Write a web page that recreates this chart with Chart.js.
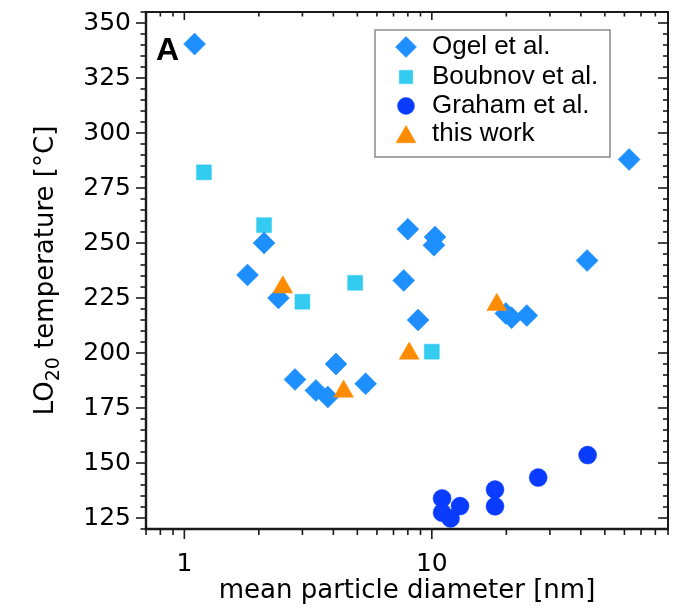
<!DOCTYPE html>
<html><head><meta charset="utf-8">
<script src="https://cdn.jsdelivr.net/npm/chart.js@4.4.1/dist/chart.umd.min.js"></script>
<style>html,body{margin:0;padding:0;background:#fff;}#wrap{width:684px;height:610px;}</style>
</head><body><div id="wrap"><canvas id="c" width="684" height="610"></canvas></div>
<script>
// ---- data ----
const ogelX = [1.1, 1.8, 2.1, 2.4, 2.8, 3.4, 3.8, 4.1, 5.4, 7.7, 8.0, 8.8, 10.3, 10.2, 19.9, 21.0, 24.2, 42.4, 62.7];
const ogelY = [340.4, 235.5, 250, 225, 188, 183, 180, 195, 186, 233, 256.3, 215, 252.7, 249, 218, 216, 217, 242, 288];
const boubnovX = [1.2, 2.1, 3.0, 4.9, 10.0];
const boubnovY = [282.1, 258.1, 223.3, 231.9, 200.6];
const grahamX = [11.0, 11.0, 11.9, 13.0, 18.0, 18.0, 26.9, 42.6];
const grahamY = [133.9, 127.4, 124.8, 130.4, 137.9, 130.3, 143.4, 153.6];
const thisX = [2.5, 4.4, 8.1, 18.3];
const thisY = [229.9, 182.5, 199.8, 221.9];
const seriesNames = ['Ogel et al.', 'Boubnov et al.', 'Graham et al.', 'this work'];
const xMajorTicks = [1, 10];
const xMinorTicks = [0.7, 0.8, 0.9, 2, 3, 4, 5, 6, 7, 8, 9, 20, 30, 40, 50, 60, 70, 80, 90];
const yMajorTicks = [125, 150, 175, 200, 225, 250, 275, 300, 325, 350];
const yMinorStep = 5;
const xRange = [0.7, 90];
const yRange = [120, 355];
const yTitleParts = ['LO', '20', ' temperature [°C]'];

const pts = (xs, ys) => xs.map((v, i) => ({x: v, y: ys[i]}));

const styles = [
  {pointStyle: 'rectRot', color: '#1E8FFF', radius: 11},
  {pointStyle: 'rect', color: '#33CCF0', radius: 10.6},
  {pointStyle: 'circle', color: '#0A3CFF', radius: 9},
  {pointStyle: 'triangle', color: '#FF8C00', radius: 11.5}
];
const seriesData = [pts(ogelX, ogelY), pts(boubnovX, boubnovY), pts(grahamX, grahamY), pts(thisX, thisY)];

const datasets = seriesData.map((d, i) => ({
  label: seriesNames[i],
  data: d,
  pointStyle: styles[i].pointStyle,
  pointRadius: styles[i].radius,
  pointHoverRadius: styles[i].radius,
  backgroundColor: styles[i].color,
  borderColor: styles[i].color,
  borderWidth: 0.5,
  showLine: false,
  order: i === 3 ? -1 : 0
}));

const decor = {
  id: 'decor',
  beforeDatasetsDraw(chart) {
    const {ctx, chartArea: a, scales: {x, y}} = chart;
    ctx.save();
    ctx.strokeStyle = '#1a1a1a';
    ctx.lineCap = 'butt';
    ctx.lineWidth = 1.6;
    const vline = (px, y0, y1) => { ctx.beginPath(); ctx.moveTo(px, y0); ctx.lineTo(px, y1); ctx.stroke(); };
    const hline = (py, x0, x1) => { ctx.beginPath(); ctx.moveTo(x0, py); ctx.lineTo(x1, py); ctx.stroke(); };
    xMajorTicks.forEach(v => { const p = x.getPixelForValue(v); vline(p, a.bottom, a.bottom + 10); vline(p, a.top, a.top + 8); });
    xMinorTicks.forEach(v => { const p = x.getPixelForValue(v); vline(p, a.bottom, a.bottom + 6); vline(p, a.top, a.top + 4.5); });
    for (let v = yRange[0]; v <= yRange[1] + 1e-9; v += yMinorStep) {
      const p = y.getPixelForValue(v);
      const major = yMajorTicks.includes(v);
      hline(p, a.left - (major ? 10 : 5.5), a.left);
      hline(p, a.right - (major ? 10 : 5), a.right);
    }
    ctx.lineWidth = 2.4;
    hline(a.bottom, a.left - 1.2, a.right + 1);
    vline(a.left, a.top - 1, a.bottom + 1.2);
    ctx.lineWidth = 2;
    hline(a.top, a.left - 1.2, a.right + 1);
    vline(a.right, a.top - 1, a.bottom + 1.2);
    ctx.restore();
  },
  afterDraw(chart) {
    const {ctx, chartArea: a} = chart;
    ctx.save();
    // y-axis title with subscript
    const big = '26px "DejaVu Sans", sans-serif';
    const small = '19px "DejaVu Sans", sans-serif';
    ctx.font = big; const w0 = ctx.measureText(yTitleParts[0]).width;
    const w2 = ctx.measureText(yTitleParts[2]).width;
    ctx.font = small; const w1 = ctx.measureText(yTitleParts[1]).width;
    const total = w0 + w1 + w2;
    const cy = (a.top + a.bottom) / 2;
    ctx.translate(53, cy);
    ctx.rotate(-Math.PI / 2);
    ctx.fillStyle = '#000';
    ctx.textAlign = 'left';
    ctx.textBaseline = 'alphabetic';
    let sx = -total / 2;
    ctx.font = big; ctx.fillText(yTitleParts[0], sx, 0); sx += w0;
    ctx.font = small; ctx.fillText(yTitleParts[1], sx, 6); sx += w1;
    ctx.font = big; ctx.fillText(yTitleParts[2], sx, 0);
    ctx.setTransform(1, 0, 0, 1, 0, 0);
    // panel label
    ctx.fillStyle = '#000';
    ctx.font = 'bold 32px "Liberation Sans", Arial, sans-serif';
    ctx.fillText('A', 156, 60);
    // legend box
    ctx.fillStyle = '#fff';
    ctx.fillRect(375, 30, 235, 127);
    ctx.strokeStyle = '#8a8a8a';
    ctx.lineWidth = 1.5;
    ctx.strokeRect(375, 30, 235, 127);
    const rows = [47, 77, 106, 134];
    const legR = [10.5, 9.5, 8.5, 11.5];
    ctx.font = '26px "Liberation Sans", Arial, sans-serif';
    ctx.textBaseline = 'middle';
    seriesNames.forEach((n, i) => {
      ctx.fillStyle = styles[i].color;
      ctx.strokeStyle = styles[i].color;
      ctx.lineWidth = 0.5;
      const yy = styles[i].pointStyle === 'triangle' ? rows[i] + 3 : rows[i];
      Chart.helpers.drawPoint(ctx, {pointStyle: styles[i].pointStyle, radius: legR[i], rotation: 0, borderWidth: 0.5}, 406, yy);
      ctx.fillStyle = '#000';
      ctx.fillText(n, 432, rows[i]);
    });
    ctx.restore();
  }
};

new Chart(document.getElementById('c'), {
  type: 'scatter',
  data: {datasets},
  options: {
    responsive: false,
    animation: false,
    devicePixelRatio: 1,
    layout: {padding: {left: 0, top: 11, right: 16, bottom: 0}},
    plugins: {legend: {display: false}, tooltip: {enabled: false}},
    scales: {
      x: {
        type: 'logarithmic',
        min: xRange[0], max: xRange[1],
        grid: {display: false, drawTicks: false, tickLength: 0},
        border: {display: false},
        afterBuildTicks: s => { s.ticks = xMajorTicks.map(v => ({value: v, major: true})); },
        afterFit: s => { s.height = 81; s.paddingLeft = 0; s.paddingRight = 0; },
        ticks: {
          autoSkip: false, maxRotation: 0, padding: 20, color: '#000',
          font: {family: '"DejaVu Sans", sans-serif', size: 25},
          callback: v => String(v)
        },
        title: {
          display: true, text: 'mean particle diameter [nm]', color: '#000',
          font: {family: '"DejaVu Sans", sans-serif', size: 26},
          padding: {top: 0, bottom: 3}
        }
      },
      y: {
        type: 'linear',
        min: yRange[0], max: yRange[1],
        grid: {display: false, drawTicks: false, tickLength: 0},
        border: {display: false},
        afterBuildTicks: s => { s.ticks = yMajorTicks.map(v => ({value: v})); },
        afterFit: s => { s.width = 146; s.paddingTop = 0; s.paddingBottom = 0; },
        ticks: {
          padding: 15, color: '#000',
          font: {family: '"DejaVu Sans", sans-serif', size: 25},
          callback: v => String(v)
        },
        title: {display: false}
      }
    }
  },
  plugins: [decor]
});
</script>
</body></html>
